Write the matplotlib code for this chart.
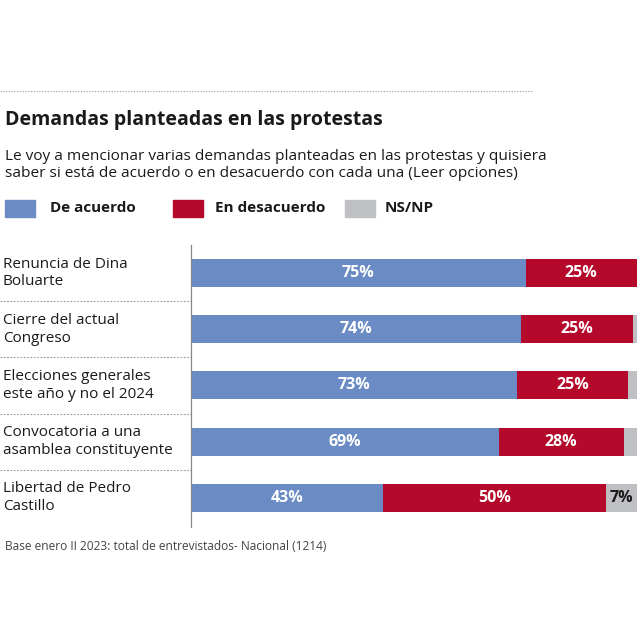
import numpy as np
import matplotlib.pyplot as plt
import matplotlib.transforms as mtransforms

plt.rcParams['font.family'] = ['Open Sans', 'DejaVu Sans']

categories = ['Renuncia de Dina\nBoluarte',
              'Cierre del actual\nCongreso',
              'Elecciones generales\neste año y no el 2024',
              'Convocatoria a una\nasamblea constituyente',
              'Libertad de Pedro\nCastillo']
de_acuerdo = [75, 74, 73, 69, 43]
en_desacuerdo = [25, 25, 25, 28, 50]
ns_np = [0, 1, 2, 3, 7]
series_names = ['De acuerdo', 'En desacuerdo', 'NS/NP']

c_blue = '#6a8bc3'
c_red = '#b4092a'
c_gray = '#bfc0c4'

fig = plt.figure(figsize=(6.4, 6.4), dpi=100)
fig.patch.set_facecolor('white')

# top dotted rule
fig.add_artist(plt.Line2D([0, 533/640], [1-91/640, 1-91/640], color='#999999',
                          lw=0.8, linestyle=(0, (1, 1.5))))

fig.text(5/640, 1-120/640, 'Demandas planteadas en las protestas', fontsize=14,
         fontweight='bold', va='center', ha='left', color='#1a1a1a')
fig.text(5/640, 1-165/640,
         'Le voy a mencionar varias demandas planteadas en las protestas y quisiera\n'
         'saber si está de acuerdo o en desacuerdo con cada una (Leer opciones)',
         fontsize=11.1, va='center', ha='left', color='#1a1a1a', linespacing=1.22)

# legend
leg_items = [(5, 50, c_blue), (173, 215, c_red), (345, 385, c_gray)]
for (sx, tx, col), name in zip(leg_items, series_names):
    fig.add_artist(plt.Rectangle((sx/640, 1-217/640), 30/640, 17/640,
                                 color=col, transform=fig.transFigure))
    fig.text(tx/640, 1-208/640, name, fontsize=11, fontweight='bold',
             va='center', ha='left', color='#1a1a1a')

ax = fig.add_axes([191/640, 1-527/640, 446/640, (527-245)/640])
y = np.arange(len(categories))
a = np.array(de_acuerdo)
d = np.array(en_desacuerdo)
n = np.array(ns_np)
ax.barh(y, a, height=0.5, color=c_blue)
ax.barh(y, d, left=a, height=0.5, color=c_red)
ax.barh(y, n, left=a + d, height=0.5, color=c_gray)
ax.set_xlim(0, 100)
ax.set_ylim(4.52, -0.5)
ax.set_xticks([])
ax.set_yticks([])
for s in ['top', 'right', 'bottom']:
    ax.spines[s].set_visible(False)
ax.spines['left'].set_color('#888888')
ax.spines['left'].set_linewidth(0.9)

for i in range(len(categories)):
    ax.text(a[i]/2, y[i], f'{a[i]}%', color='white', fontsize=11.5,
            fontweight='bold', ha='center', va='center')
    ax.text(a[i] + d[i]/2, y[i], f'{d[i]}%', color='white', fontsize=11.5,
            fontweight='bold', ha='center', va='center')
    if n[i] >= 5:
        ax.text(a[i] + d[i] + n[i]/2, y[i], f'{n[i]}%', color='#1a1a1a',
                fontsize=11.5, fontweight='bold', ha='center', va='center')

trans = mtransforms.blended_transform_factory(ax.transAxes, ax.transData)
x0 = -188/446
for i, cat in enumerate(categories):
    ax.text(x0, y[i], cat, transform=trans, fontsize=11, ha='left',
            va='center', color='#1a1a1a', linespacing=1.25)
    if i < len(categories) - 1:
        ax.plot([-191/446, 0], [i + 0.5, i + 0.5], transform=trans,
                clip_on=False, color='#999999', lw=0.8,
                linestyle=(0, (1.5, 1.5)))

fig.text(5/640, 1-546/640,
         'Base enero II 2023: total de entrevistados- Nacional (1214)',
         fontsize=8.6, va='center', ha='left', color='#444444')

fig.savefig('out.png', dpi=100)
